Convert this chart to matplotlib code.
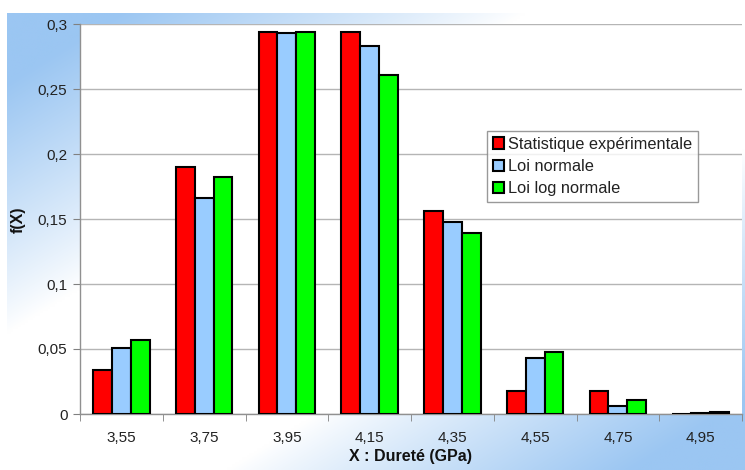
import numpy as np
import matplotlib
matplotlib.use("Agg")
import matplotlib.pyplot as plt
from matplotlib.ticker import FixedLocator

plt.rcParams['font.family'] = ['Liberation Sans', 'DejaVu Sans']

categories = ["3,55", "3,75", "3,95", "4,15", "4,35", "4,55", "4,75", "4,95"]
stat_exp = [0.034, 0.190, 0.294, 0.294, 0.156, 0.018, 0.018, 0.0]
loi_normale = [0.051, 0.166, 0.293, 0.283, 0.148, 0.043, 0.006, 0.0006]
loi_lognormale = [0.057, 0.182, 0.294, 0.261, 0.139, 0.048, 0.011, 0.0018]
series_names = ["Statistique expérimentale", "Loi normale", "Loi log normale"]
series_colors = ["#ff0000", "#99ccff", "#00ff00"]
y_ticks = [0, 0.05, 0.1, 0.15, 0.2, 0.25, 0.3]
y_labels = ["0", "0,05", "0,1", "0,15", "0,2", "0,25", "0,3"]

W, H = 745, 470
fig = plt.figure(figsize=(W / 100, H / 100), dpi=100)

# gradient background (chart area)
bg = fig.add_axes([7 / W, 0, 1 - 7 / W, (H - 13) / H])
bg.set_axis_off()
nx, ny = 300, 200
xx, yy = np.meshgrid(np.linspace(0, 1, nx), np.linspace(0, 1, ny))
u = (xx + yy) / 2
t = np.abs(u - 0.5) * 2
a = np.clip((t - 0.3) / 0.55, 0, 1) ** 0.9
blue = np.array([155, 198, 242]) / 255
white = np.array([1.0, 1.0, 1.0])
img = white[None, None, :] * (1 - a[..., None]) + blue[None, None, :] * a[..., None]
bg.imshow(img, aspect='auto', extent=[0, 1, 1, 0], interpolation='bilinear')
bg.set_xlim(0, 1)
bg.set_ylim(1, 0)

ax = fig.add_axes([80 / W, 1 - 414 / H, (742 - 80) / W, (414 - 24) / H])
ax.set_facecolor('white')

x = np.arange(len(categories))
bw = 0.227
for k, (vals, name, col) in enumerate(zip([stat_exp, loi_normale, loi_lognormale], series_names, series_colors)):
    ax.bar(x + (k - 1) * bw, vals, width=bw, color=col, edgecolor='black', linewidth=1.5,
           label=name, zorder=3)

ax.set_xlim(-0.5, len(categories) - 0.5)
ax.set_ylim(0, 0.3)
ax.set_yticks(y_ticks)
ax.set_yticklabels(y_labels)
ax.set_xticks(x)
ax.set_xticklabels(categories)
ax.xaxis.set_minor_locator(FixedLocator(np.arange(-0.5, len(categories), 1.0)))
ax.tick_params(axis='x', which='major', length=0, pad=12, labelsize=11, labelcolor='#222222')
ax.tick_params(axis='x', which='minor', length=5, color='#808080', direction='out')
ax.tick_params(axis='y', which='major', length=5, color='#808080', direction='out', pad=4,
               labelsize=11, labelcolor='#222222')

ax.grid(axis='y', color='#b5b5b5', linewidth=1.0, zorder=0)
ax.set_axisbelow(True)
for s in ['top', 'right']:
    ax.spines[s].set_visible(False)
for s in ['left', 'bottom']:
    ax.spines[s].set_color('#909090')
    ax.spines[s].set_linewidth(1.0)

fig.text(411 / W, 1 - 461 / H, "X : Dureté (GPa)", ha='center', va='baseline',
         fontsize=11.5, fontweight='bold', color='#111111')
fig.text(18 / W, 1 - 220 / H, "f(X)", ha='center', va='center', rotation=90,
         fontsize=11.5, fontweight='bold', color='#111111')

leg = ax.legend(loc='upper left', bbox_to_anchor=((487 - 80) / (742 - 80), 1 - (131 - 24) / (414 - 24)),
                fontsize=11.8, frameon=True, fancybox=False, edgecolor='#808080',
                handlelength=0.7, handleheight=0.7, handletextpad=0.25, borderpad=0.35,
                labelspacing=0.45, borderaxespad=0)
leg.get_frame().set_linewidth(1.0)
for txt in leg.get_texts():
    txt.set_color('#222222')

fig.savefig("out.png", dpi=100)
